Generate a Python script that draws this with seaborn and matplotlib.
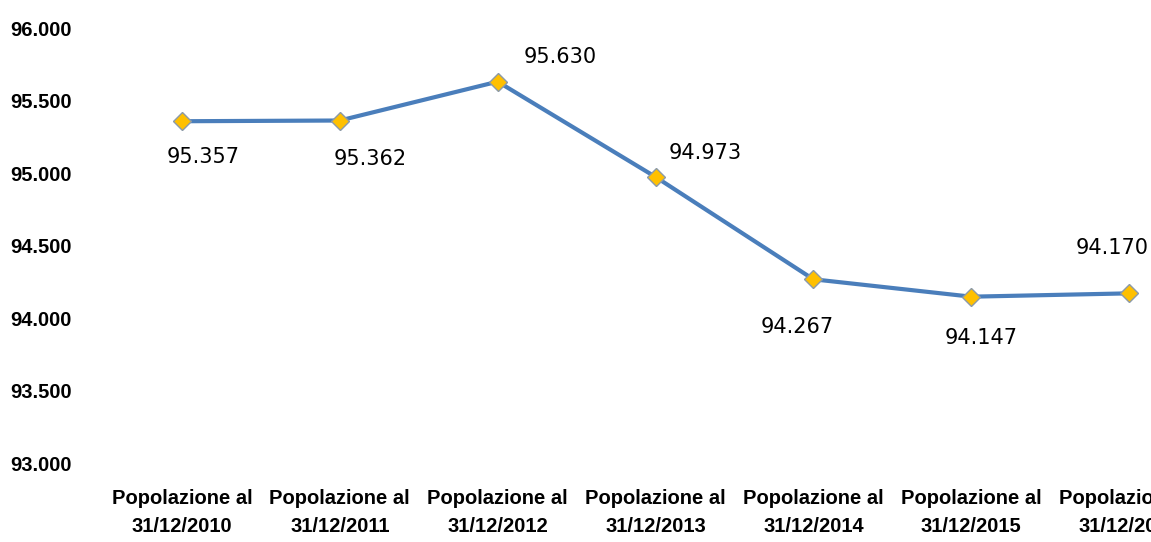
import seaborn as sns
import matplotlib.pyplot as plt
import pandas as pd

# data
categories = ["Popolazione al\n31/12/2010", "Popolazione al\n31/12/2011",
              "Popolazione al\n31/12/2012", "Popolazione al\n31/12/2013",
              "Popolazione al\n31/12/2014", "Popolazione al\n31/12/2015",
              "Popolazione al\n31/12/2016"]
population = [95357, 95362, 95630, 94973, 94267, 94147, 94170]
point_labels = ["95.357", "95.362", "95.630", "94.973", "94.267", "94.147", "94.170"]
y_ticks = [93000, 93500, 94000, 94500, 95000, 95500, 96000]

# label offsets (points) relative to each marker
label_offsets = [(15, -26), (22, -28), (45, 18), (36, 17), (-12, -34), (7, -30), (-12, 33)]

sns.set_theme(style="white")
plt.rcParams["font.family"] = ["Liberation Sans", "DejaVu Sans"]

df = pd.DataFrame({"cat": categories, "pop": population})

fig = plt.figure(figsize=(11.51, 5.42), dpi=100)
ax = fig.add_axes([103 / 1151, 79 / 542, 1105 / 1151, 435 / 542])

sns.lineplot(data=df, x="cat", y="pop", sort=False, ax=ax,
             color="#4A7EBB", linewidth=3.0, marker="D", markersize=9,
             markerfacecolor="#FFC000", markeredgecolor="#8C9AA8",
             markeredgewidth=1)

for i, (v, txt) in enumerate(zip(population, point_labels)):
    ax.annotate(txt, (i, v), xytext=label_offsets[i], textcoords="offset points",
                ha="center", va="center", fontsize=15, color="#000000",
                family="DejaVu Sans")

ax.set_xlim(-0.5, len(categories) - 0.5)
ax.set_ylim(93000, 96000)
ax.set_yticks(y_ticks)
ax.set_yticklabels([f"{t/1000:.3f}" for t in y_ticks])
ax.set_xlabel("")
ax.set_ylabel("")

ax.tick_params(axis="y", length=0, pad=67, labelsize=14.5, labelcolor="#000000")
ax.tick_params(axis="x", length=0, pad=19, labelsize=14.5, labelcolor="#000000")
for lab in ax.get_yticklabels():
    lab.set_ha("left")
    lab.set_fontweight("bold")
for lab in ax.get_xticklabels():
    lab.set_fontweight("bold")
    lab.set_linespacing(1.6)

sns.despine(ax=ax, left=True, bottom=True)
ax.grid(False)

fig.savefig("out.png", dpi=100)
